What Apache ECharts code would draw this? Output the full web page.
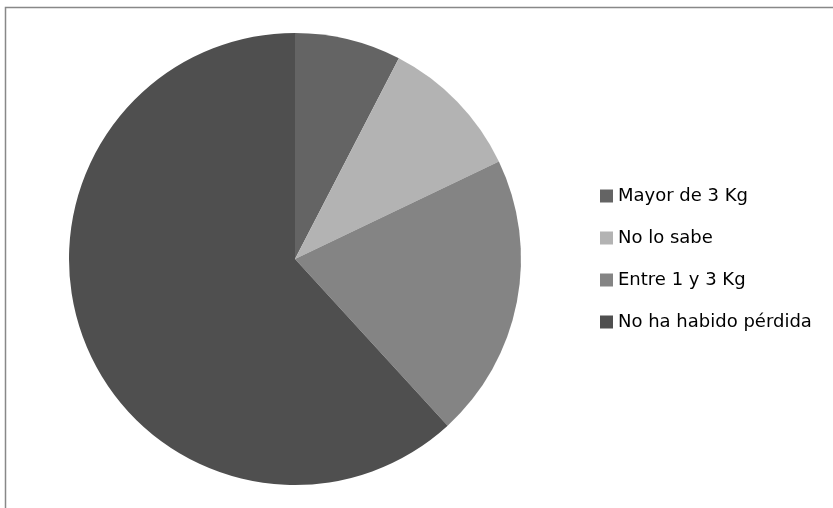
<!DOCTYPE html>
<html>
<head>
<meta charset="utf-8">
<script src="https://cdn.jsdelivr.net/npm/echarts@6/dist/echarts.min.js"></script>
<style>
  html, body { margin: 0; padding: 0; background: #ffffff; }
  #chart { width: 833px; height: 508px; }
</style>
</head>
<body>
<div id="chart"></div>
<script>
// Pérdida de peso: share of each answer
const categories = ['Mayor de 3 Kg', 'No lo sabe', 'Entre 1 y 3 Kg', 'No ha habido pérdida'];
const values = [7.6, 10.3, 20.3, 61.8];
const colors = ['#646464', '#b3b3b3', '#848484', '#4f4f4f'];

const chart = echarts.init(document.getElementById('chart'), null, { renderer: 'canvas' });

chart.setOption({
  animation: false,
  backgroundColor: '#ffffff',
  color: colors,
  graphic: [{
    type: 'rect',
    shape: { x: 5.5, y: 7.5, width: 900, height: 600 },
    style: { fill: 'none', stroke: '#888888', lineWidth: 1.5 },
    silent: true
  }],
  legend: {
    orient: 'vertical',
    left: 600,
    top: 186,
    padding: 0,
    itemWidth: 13,
    itemHeight: 13,
    itemGap: 22,
    icon: 'rect',
    data: categories,
    textStyle: {
      fontFamily: 'DejaVu Sans',
      fontSize: 18,
      lineHeight: 20,
      color: '#000000'
    }
  },
  series: [{
    type: 'pie',
    center: [295, 259],
    radius: [0, 226],
    startAngle: 90,
    clockwise: true,
    label: { show: false },
    labelLine: { show: false },
    itemStyle: { borderWidth: 0 },
    emphasis: { disabled: true },
    data: categories.map((name, i) => ({ name: name, value: values[i] }))
  }]
});
</script>
</body>
</html>
